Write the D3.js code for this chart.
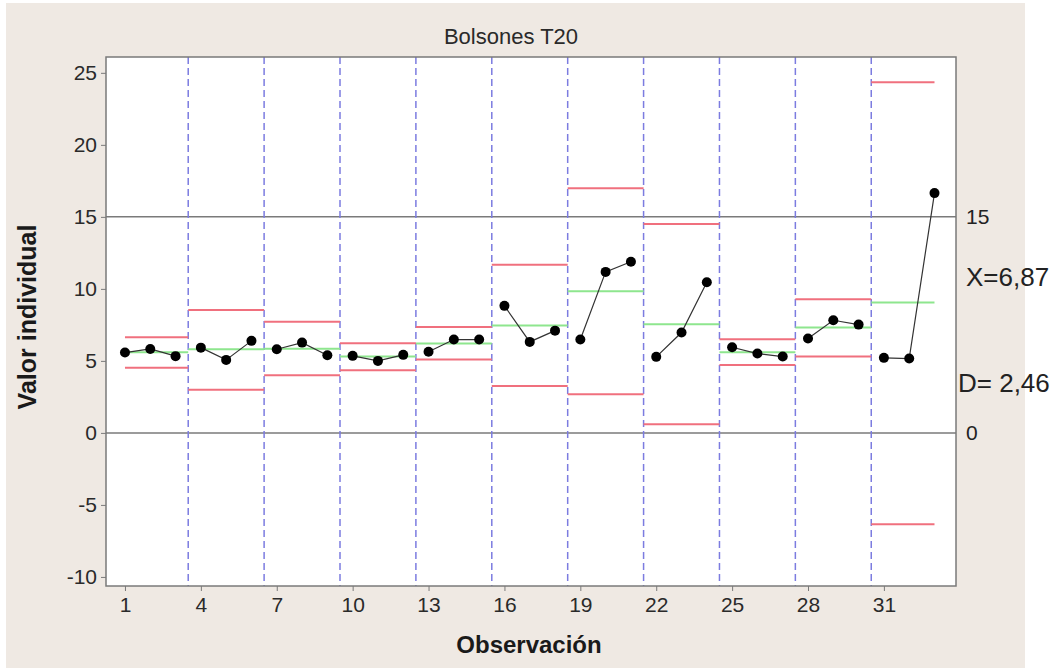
<!DOCTYPE html>
<html lang="es">
<head>
<meta charset="UTF-8">
<title>Bolsones T20</title>
<script src="https://d3js.org/d3.v7.min.js"></script>
<style>
  body { margin: 0; background: #ffffff; }
  svg { display: block; font-family: "Liberation Sans", Arial, sans-serif; }
</style>
</head>
<body>
<div id="chart"></div>
<script>
// valores individuales (observaciones 1..33)
const observaciones = [1,2,3,4,5,6,7,8,9,10,11,12,13,14,15,16,17,18,19,20,21,22,23,24,25,26,27,28,29,30,31,32,33];
const valores = [5.58, 5.83, 5.33, 5.92, 5.07, 6.39, 5.81, 6.27, 5.39, 5.35, 5.00, 5.42,
                 5.63, 6.48, 6.48, 8.82, 6.32, 7.10, 6.48, 11.18, 11.88, 5.28, 6.97, 10.46,
                 5.95, 5.51, 5.30, 6.55, 7.82, 7.52, 5.21, 5.16, 16.65];

// etapas de 3 observaciones
const etapaInicio = [1, 4, 7, 10, 13, 16, 19, 22, 25, 28, 31];
const etapaFin    = [3, 6, 9, 12, 15, 18, 21, 24, 27, 30, 33];
const centro = [5.60, 5.80, 5.85, 5.30, 6.20, 7.45, 9.84, 7.55, 5.60, 7.31, 9.05];
const lsc    = [6.65, 8.54, 7.71, 6.23, 7.36, 11.67, 16.99, 14.51, 6.50, 9.28, 24.35];
const lic    = [4.53, 2.99, 4.00, 4.35, 5.09, 3.26, 2.69, 0.60, 4.72, 5.30, -6.34];

const xTicks = [1, 4, 7, 10, 13, 16, 19, 22, 25, 28, 31];
const yTicks = [-10, -5, 0, 5, 10, 15, 20, 25];
const lineasRef = [15, 0];
const etiquetasDer = ["15", "X=6,87", "D= 2,46", "0"];
const etiquetasDerY = [15, 10.85, 3.5, 0];

const width = 1060, height = 669;
const margin = { left: 106, top: 57, right: 1060 - 956, bottom: 669 - 586 };

const svg = d3.select("#chart").append("svg")
    .attr("width", width)
    .attr("height", height);

// fondo
svg.append("rect")
    .attr("x", 6).attr("y", 3)
    .attr("width", 1019).attr("height", 665)
    .attr("fill", "#efe9e3");

const x = d3.scaleLinear()
    .domain([0.25, 33.85])
    .range([margin.left, width - margin.right]);

const y = d3.scaleLinear()
    .domain([-10.63, 26.1])
    .range([height - margin.bottom, margin.top]);

// area del grafico
svg.append("rect")
    .attr("x", margin.left).attr("y", margin.top)
    .attr("width", width - margin.left - margin.right)
    .attr("height", height - margin.top - margin.bottom)
    .attr("fill", "#ffffff");

// lineas de referencia
svg.append("g").selectAll("line")
    .data(lineasRef)
    .join("line")
    .attr("x1", x.range()[0]).attr("x2", x.range()[1])
    .attr("y1", d => y(d)).attr("y2", d => y(d))
    .attr("stroke", "#7a7a7a")
    .attr("stroke-width", 1.5);

// separadores de etapas
svg.append("g").selectAll("line")
    .data(etapaInicio.slice(1))
    .join("line")
    .attr("x1", d => x(d - 0.5)).attr("x2", d => x(d - 0.5))
    .attr("y1", y.range()[1]).attr("y2", y.range()[0])
    .attr("stroke", "#7c7ce0")
    .attr("stroke-width", 1.5)
    .attr("stroke-dasharray", "7,4");

// limites y linea central por etapa
const etapas = etapaInicio.map((s, i) => ({
    x0: i === 0 ? s : s - 0.5,
    x1: i === etapaInicio.length - 1 ? etapaFin[i] : etapaFin[i] + 0.5,
    c: centro[i], u: lsc[i], l: lic[i]
}));

const gEt = svg.append("g");
[["c", "#8ee68e"], ["u", "#f0707e"], ["l", "#f0707e"]].forEach(([k, color]) => {
    gEt.selectAll("line." + k)
        .data(etapas)
        .join("line")
        .attr("class", k)
        .attr("x1", d => x(d.x0)).attr("x2", d => x(d.x1))
        .attr("y1", d => y(d[k])).attr("y2", d => y(d[k]))
        .attr("stroke", color)
        .attr("stroke-width", 2);
});

// puntos unidos dentro de cada etapa
const puntos = observaciones.map((o, i) => ({ o: o, v: valores[i] }));
const linea = d3.line().x(d => x(d.o)).y(d => y(d.v));
svg.append("g").selectAll("path")
    .data(etapaInicio.map((s, i) => puntos.filter(p => p.o >= s && p.o <= etapaFin[i])))
    .join("path")
    .attr("d", linea)
    .attr("fill", "none")
    .attr("stroke", "#333")
    .attr("stroke-width", 1.2);

svg.append("g").selectAll("circle")
    .data(puntos)
    .join("circle")
    .attr("cx", d => x(d.o))
    .attr("cy", d => y(d.v))
    .attr("r", 5)
    .attr("fill", "#000");

// marco
svg.append("rect")
    .attr("x", margin.left).attr("y", margin.top)
    .attr("width", width - margin.left - margin.right)
    .attr("height", height - margin.top - margin.bottom)
    .attr("fill", "none")
    .attr("stroke", "#7a7a7a")
    .attr("stroke-width", 1.5);

// ejes
const ejeY = svg.append("g")
    .attr("transform", `translate(${margin.left},0)`)
    .call(d3.axisLeft(y).tickValues(yTicks).tickSize(5).tickPadding(4).tickFormat(d => String(d)));
const ejeX = svg.append("g")
    .attr("transform", `translate(0,${height - margin.bottom})`)
    .call(d3.axisBottom(x).tickValues(xTicks).tickSize(5).tickPadding(6).tickFormat(d => String(d)));
[ejeY, ejeX].forEach(g => {
    g.select(".domain").remove();
    g.selectAll(".tick line").attr("stroke", "#7a7a7a");
    g.selectAll(".tick text")
        .attr("fill", "#2a2a2a")
        .style("font-size", "21px")
        .style("font-family", "'Liberation Sans', Arial, sans-serif");
});

// etiquetas derecha
svg.append("g").selectAll("text")
    .data(etiquetasDer)
    .join("text")
    .attr("x", (d, i) => i === 2 ? 958 : 966)
    .attr("y", (d, i) => y(etiquetasDerY[i]))
    .attr("dy", "0.35em")
    .attr("fill", "#222")
    .style("font-size", (d, i) => (i === 1 || i === 2) ? "26px" : "21px")
    .text(d => d);

// titulos
svg.append("text")
    .attr("x", 511).attr("y", 44)
    .attr("text-anchor", "middle")
    .attr("fill", "#2a2a2a")
    .style("font-size", "22px")
    .text("Bolsones T20");

svg.append("text")
    .attr("x", 529).attr("y", 653)
    .attr("text-anchor", "middle")
    .attr("fill", "#1a1a1a")
    .style("font-size", "24px")
    .style("font-weight", "bold")
    .text("Observación");

svg.append("text")
    .attr("transform", "translate(36,317) rotate(-90)")
    .attr("text-anchor", "middle")
    .attr("fill", "#1a1a1a")
    .style("font-size", "25px")
    .style("font-weight", "bold")
    .text("Valor individual");
</script>
</body>
</html>
